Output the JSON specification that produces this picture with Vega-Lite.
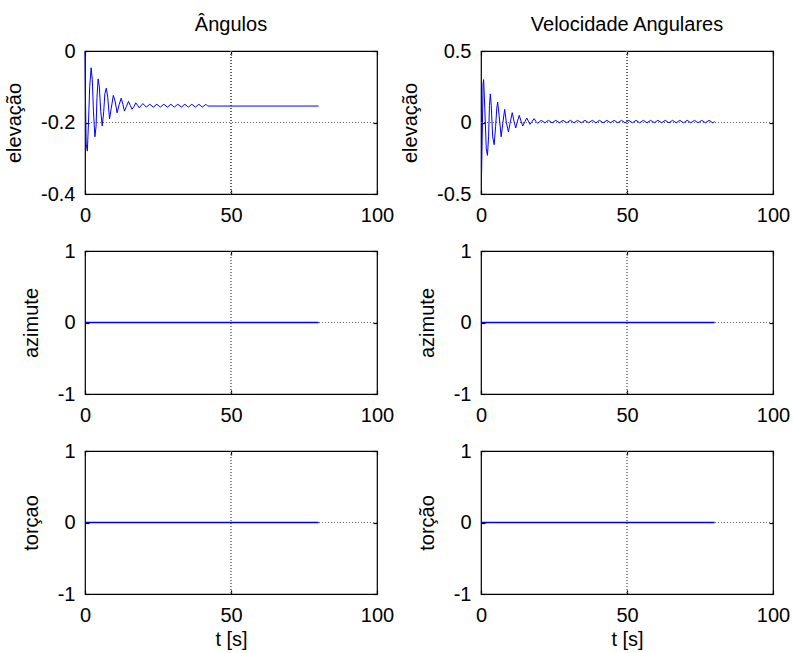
{
  "$schema": "https://vega.github.io/schema/vega-lite/v6.json",
  "padding": {"left": 3, "top": 14, "right": 2, "bottom": 5},
  "background": "white",
  "datasets": {
    "ang": [
      {"t": 0, "v": 0}, {"t": 0.15, "v": -0.13}, {"t": 0.4, "v": -0.26}, {"t": 0.8, "v": -0.28},
      {"t": 1.2, "v": -0.2}, {"t": 1.6, "v": -0.1}, {"t": 2.1, "v": -0.047}, {"t": 2.5, "v": -0.08},
      {"t": 2.9, "v": -0.17}, {"t": 3.4, "v": -0.24}, {"t": 3.8, "v": -0.21}, {"t": 4.1, "v": -0.13},
      {"t": 4.5, "v": -0.078}, {"t": 4.9, "v": -0.1}, {"t": 5.4, "v": -0.17}, {"t": 5.9, "v": -0.21},
      {"t": 6.4, "v": -0.17}, {"t": 6.8, "v": -0.12}, {"t": 7.3, "v": -0.104}, {"t": 7.8, "v": -0.13},
      {"t": 8.4, "v": -0.19}, {"t": 9.0, "v": -0.16}, {"t": 9.7, "v": -0.124}, {"t": 10.3, "v": -0.14},
      {"t": 11.0, "v": -0.173}, {"t": 11.7, "v": -0.15}, {"t": 12.4, "v": -0.132}, {"t": 13.0, "v": -0.15},
      {"t": 13.5, "v": -0.168}, {"t": 14.2, "v": -0.155}, {"t": 14.9, "v": -0.141}, {"t": 15.5, "v": -0.152},
      {"t": 16.1, "v": -0.163}, {"t": 16.8, "v": -0.155}, {"t": 17.4, "v": -0.145}, {"t": 18.0, "v": -0.152},
      {"t": 18.6, "v": -0.159}, {"t": 19.2, "v": -0.153}, {"t": 19.8, "v": -0.147},
      {"t": 21.0, "v": -0.157}, {"t": 22.2, "v": -0.149}, {"t": 23.4, "v": -0.157}, {"t": 24.6, "v": -0.149},
      {"t": 25.8, "v": -0.157}, {"t": 27.0, "v": -0.149}, {"t": 28.2, "v": -0.157}, {"t": 29.4, "v": -0.149},
      {"t": 30.6, "v": -0.157}, {"t": 31.8, "v": -0.149}, {"t": 33.0, "v": -0.157}, {"t": 34.2, "v": -0.149},
      {"t": 35.4, "v": -0.157}, {"t": 36.6, "v": -0.149}, {"t": 37.8, "v": -0.157}, {"t": 39.0, "v": -0.149},
      {"t": 40.2, "v": -0.157}, {"t": 41.4, "v": -0.149}, {"t": 42.0, "v": -0.154}, {"t": 80, "v": -0.154}
    ],
    "vel": [
      {"t": 0, "v": -0.36}, {"t": 0.2, "v": -0.36}, {"t": 0.5, "v": 0.0}, {"t": 0.7, "v": 0.27},
      {"t": 0.9, "v": 0.30}, {"t": 1.3, "v": 0.1}, {"t": 1.8, "v": -0.18}, {"t": 2.2, "v": -0.23},
      {"t": 2.6, "v": -0.1}, {"t": 2.9, "v": 0.12}, {"t": 3.2, "v": 0.20}, {"t": 3.5, "v": 0.12},
      {"t": 4.0, "v": -0.1}, {"t": 4.5, "v": -0.155}, {"t": 5.0, "v": -0.03}, {"t": 5.4, "v": 0.1},
      {"t": 5.7, "v": 0.143}, {"t": 6.2, "v": 0.05}, {"t": 6.9, "v": -0.10}, {"t": 7.5, "v": 0.0},
      {"t": 8.1, "v": 0.092}, {"t": 8.7, "v": 0.0}, {"t": 9.4, "v": -0.066}, {"t": 10.0, "v": 0.0},
      {"t": 10.7, "v": 0.069}, {"t": 11.3, "v": 0.01}, {"t": 11.9, "v": -0.038}, {"t": 12.5, "v": 0.01},
      {"t": 13.1, "v": 0.05}, {"t": 13.7, "v": 0.01}, {"t": 14.3, "v": -0.024}, {"t": 15.0, "v": 0.005},
      {"t": 15.7, "v": 0.031}, {"t": 16.2, "v": 0.01}, {"t": 16.8, "v": -0.013}, {"t": 17.5, "v": 0.008},
      {"t": 18.2, "v": 0.027}, {"t": 18.8, "v": 0.008}, {"t": 19.4, "v": -0.006},
      {"t": 20.6, "v": 0.015}, {"t": 21.85, "v": -0.002}, {"t": 23.1, "v": 0.015}, {"t": 24.35, "v": -0.002},
      {"t": 25.6, "v": 0.015}, {"t": 26.85, "v": -0.002}, {"t": 28.1, "v": 0.015}, {"t": 29.35, "v": -0.002},
      {"t": 30.6, "v": 0.015}, {"t": 31.85, "v": -0.002}, {"t": 33.1, "v": 0.015}, {"t": 34.35, "v": -0.002},
      {"t": 35.6, "v": 0.015}, {"t": 36.85, "v": -0.002}, {"t": 38.1, "v": 0.015}, {"t": 39.35, "v": -0.002},
      {"t": 40.6, "v": 0.015}, {"t": 41.85, "v": -0.002}, {"t": 43.1, "v": 0.015}, {"t": 44.35, "v": -0.002},
      {"t": 45.6, "v": 0.015}, {"t": 46.85, "v": -0.002}, {"t": 48.1, "v": 0.015}, {"t": 49.35, "v": -0.002},
      {"t": 50.6, "v": 0.015}, {"t": 51.85, "v": -0.002}, {"t": 53.1, "v": 0.015}, {"t": 54.35, "v": -0.002},
      {"t": 55.6, "v": 0.015}, {"t": 56.85, "v": -0.002}, {"t": 58.1, "v": 0.015}, {"t": 59.35, "v": -0.002},
      {"t": 60.6, "v": 0.015}, {"t": 61.85, "v": -0.002}, {"t": 63.1, "v": 0.015}, {"t": 64.35, "v": -0.002},
      {"t": 65.6, "v": 0.015}, {"t": 66.85, "v": -0.002}, {"t": 68.1, "v": 0.015}, {"t": 69.35, "v": -0.002},
      {"t": 70.6, "v": 0.015}, {"t": 71.85, "v": -0.002}, {"t": 73.1, "v": 0.015}, {"t": 74.35, "v": -0.002},
      {"t": 75.6, "v": 0.015}, {"t": 76.85, "v": -0.002}, {"t": 78.1, "v": 0.015}, {"t": 79.35, "v": -0.002},
      {"t": 80, "v": 0.006}
    ],
    "zero": [{"t": 0, "v": 0}, {"t": 80, "v": 0}]
  },
  "config": {
    "font": "Liberation Sans",
    "view": {"stroke": "black", "strokeWidth": 1.2},
    "axis": {
      "labelFont": "Liberation Sans", "labelFontSize": 20, "labelColor": "black", "labelFlush": false,
      "titleFont": "Liberation Sans", "titleFontSize": 20, "titleFontWeight": "normal", "titleColor": "black",
      "domain": false, "tickColor": "black", "tickSize": -4, "tickWidth": 1.2, "grid": false,
      "labelPadding": 14, "titlePadding": 16
    },
    "rule": {"color": "#666", "strokeDash": [1, 2], "strokeWidth": 1},
    "title": {"font": "Liberation Sans", "fontSize": 20, "fontWeight": "normal", "color": "black", "offset": 6}
  },
  "columns": 2,
  "bounds": "flush",
  "spacing": {"row": 57, "column": 104},
  "concat": [
    {
      "width": 292, "height": 143,
      "title": "Ângulos",
      "data": {"name": "ang"},
      "layer": [
        {"mark": "rule", "encoding": {"x": {"datum": 50, "type": "quantitative", "axis": null}}},
        {"mark": "rule", "encoding": {"y": {"datum": -0.2, "type": "quantitative", "axis": null}}},
        {"mark": {"type": "line", "color": "#0000ff", "strokeWidth": 1},
         "encoding": {
           "x": {"field": "t", "type": "quantitative", "scale": {"domain": [0, 100], "nice": false, "zero": false}, "axis": {"orient": "bottom", "values": [0, 50, 100], "title": null, "labelExpr": "'' + datum.value", "labelPadding": 15}},
           "y": {"field": "v", "type": "quantitative", "scale": {"domain": [-0.4, 0], "nice": false}, "axis": {"orient": "left", "values": [-0.4, -0.2, 0], "title": "elevação", "labelExpr": "'' + datum.value"}}
         }},
        {"mark": {"type": "line", "opacity": 0},
         "encoding": {
           "x": {"field": "t", "type": "quantitative", "scale": {"domain": [0, 100], "nice": false, "zero": false}, "axis": {"orient": "top", "values": [0, 50, 100], "title": null, "labels": false}},
           "y": {"field": "v", "type": "quantitative", "scale": {"domain": [-0.4, 0], "nice": false}, "axis": {"orient": "right", "values": [-0.4, -0.2, 0], "title": null, "labels": false}}
         }}
      ],
      "resolve": {"axis": {"x": "independent", "y": "independent"}}
    },
    {
      "width": 292, "height": 143,
      "title": "Velocidade Angulares",
      "data": {"name": "vel"},
      "layer": [
        {"mark": "rule", "encoding": {"x": {"datum": 50, "type": "quantitative", "axis": null}}},
        {"mark": "rule", "encoding": {"y": {"datum": 0, "type": "quantitative", "axis": null}}},
        {"mark": {"type": "line", "color": "#0000ff", "strokeWidth": 1},
         "encoding": {
           "x": {"field": "t", "type": "quantitative", "scale": {"domain": [0, 100], "nice": false, "zero": false}, "axis": {"orient": "bottom", "values": [0, 50, 100], "title": null, "labelExpr": "'' + datum.value", "labelPadding": 15}},
           "y": {"field": "v", "type": "quantitative", "scale": {"domain": [-0.5, 0.5], "nice": false}, "axis": {"orient": "left", "values": [-0.5, 0, 0.5], "title": "elevação", "labelExpr": "'' + datum.value"}}
         }},
        {"mark": {"type": "line", "opacity": 0},
         "encoding": {
           "x": {"field": "t", "type": "quantitative", "scale": {"domain": [0, 100], "nice": false, "zero": false}, "axis": {"orient": "top", "values": [0, 50, 100], "title": null, "labels": false}},
           "y": {"field": "v", "type": "quantitative", "scale": {"domain": [-0.5, 0.5], "nice": false}, "axis": {"orient": "right", "values": [-0.5, 0, 0.5], "title": null, "labels": false}}
         }}
      ],
      "resolve": {"axis": {"x": "independent", "y": "independent"}}
    },
    {
      "width": 292, "height": 143,
      "data": {"name": "zero"},
      "layer": [
        {"mark": "rule", "encoding": {"x": {"datum": 50, "type": "quantitative", "axis": null}}},
        {"mark": "rule", "encoding": {"y": {"datum": 0, "type": "quantitative", "axis": null}}},
        {"mark": {"type": "line", "color": "#0000ff", "strokeWidth": 1.3},
         "encoding": {
           "x": {"field": "t", "type": "quantitative", "scale": {"domain": [0, 100], "nice": false, "zero": false}, "axis": {"orient": "bottom", "values": [0, 50, 100], "title": null, "labelExpr": "'' + datum.value", "labelPadding": 15}},
           "y": {"field": "v", "type": "quantitative", "scale": {"domain": [-1, 1], "nice": false}, "axis": {"orient": "left", "values": [-1, 0, 1], "title": "azimute", "labelExpr": "'' + datum.value"}}
         }},
        {"mark": {"type": "line", "opacity": 0},
         "encoding": {
           "x": {"field": "t", "type": "quantitative", "scale": {"domain": [0, 100], "nice": false, "zero": false}, "axis": {"orient": "top", "values": [0, 50, 100], "title": null, "labels": false}},
           "y": {"field": "v", "type": "quantitative", "scale": {"domain": [-1, 1], "nice": false}, "axis": {"orient": "right", "values": [-1, 0, 1], "title": null, "labels": false}}
         }}
      ],
      "resolve": {"axis": {"x": "independent", "y": "independent"}}
    },
    {
      "width": 292, "height": 143,
      "data": {"name": "zero"},
      "layer": [
        {"mark": "rule", "encoding": {"x": {"datum": 50, "type": "quantitative", "axis": null}}},
        {"mark": "rule", "encoding": {"y": {"datum": 0, "type": "quantitative", "axis": null}}},
        {"mark": {"type": "line", "color": "#0000ff", "strokeWidth": 1.3},
         "encoding": {
           "x": {"field": "t", "type": "quantitative", "scale": {"domain": [0, 100], "nice": false, "zero": false}, "axis": {"orient": "bottom", "values": [0, 50, 100], "title": null, "labelExpr": "'' + datum.value", "labelPadding": 15}},
           "y": {"field": "v", "type": "quantitative", "scale": {"domain": [-1, 1], "nice": false}, "axis": {"orient": "left", "values": [-1, 0, 1], "title": "azimute", "labelExpr": "'' + datum.value"}}
         }},
        {"mark": {"type": "line", "opacity": 0},
         "encoding": {
           "x": {"field": "t", "type": "quantitative", "scale": {"domain": [0, 100], "nice": false, "zero": false}, "axis": {"orient": "top", "values": [0, 50, 100], "title": null, "labels": false}},
           "y": {"field": "v", "type": "quantitative", "scale": {"domain": [-1, 1], "nice": false}, "axis": {"orient": "right", "values": [-1, 0, 1], "title": null, "labels": false}}
         }}
      ],
      "resolve": {"axis": {"x": "independent", "y": "independent"}}
    },
    {
      "width": 292, "height": 143,
      "data": {"name": "zero"},
      "layer": [
        {"mark": "rule", "encoding": {"x": {"datum": 50, "type": "quantitative", "axis": null}}},
        {"mark": "rule", "encoding": {"y": {"datum": 0, "type": "quantitative", "axis": null}}},
        {"mark": {"type": "line", "color": "#0000d0", "strokeWidth": 1.3},
         "encoding": {
           "x": {"field": "t", "type": "quantitative", "scale": {"domain": [0, 100], "nice": false, "zero": false}, "axis": {"orient": "bottom", "values": [0, 50, 100], "title": "t [s]", "labelExpr": "'' + datum.value", "labelPadding": 15, "titlePadding": 4}},
           "y": {"field": "v", "type": "quantitative", "scale": {"domain": [-1, 1], "nice": false}, "axis": {"orient": "left", "values": [-1, 0, 1], "title": "torçao", "labelExpr": "'' + datum.value"}}
         }},
        {"mark": {"type": "line", "opacity": 0},
         "encoding": {
           "x": {"field": "t", "type": "quantitative", "scale": {"domain": [0, 100], "nice": false, "zero": false}, "axis": {"orient": "top", "values": [0, 50, 100], "title": null, "labels": false}},
           "y": {"field": "v", "type": "quantitative", "scale": {"domain": [-1, 1], "nice": false}, "axis": {"orient": "right", "values": [-1, 0, 1], "title": null, "labels": false}}
         }}
      ],
      "resolve": {"axis": {"x": "independent", "y": "independent"}}
    },
    {
      "width": 292, "height": 143,
      "data": {"name": "zero"},
      "layer": [
        {"mark": "rule", "encoding": {"x": {"datum": 50, "type": "quantitative", "axis": null}}},
        {"mark": "rule", "encoding": {"y": {"datum": 0, "type": "quantitative", "axis": null}}},
        {"mark": {"type": "line", "color": "#0000d0", "strokeWidth": 1.3},
         "encoding": {
           "x": {"field": "t", "type": "quantitative", "scale": {"domain": [0, 100], "nice": false, "zero": false}, "axis": {"orient": "bottom", "values": [0, 50, 100], "title": "t [s]", "labelExpr": "'' + datum.value", "labelPadding": 15, "titlePadding": 4}},
           "y": {"field": "v", "type": "quantitative", "scale": {"domain": [-1, 1], "nice": false}, "axis": {"orient": "left", "values": [-1, 0, 1], "title": "torção", "labelExpr": "'' + datum.value"}}
         }},
        {"mark": {"type": "line", "opacity": 0},
         "encoding": {
           "x": {"field": "t", "type": "quantitative", "scale": {"domain": [0, 100], "nice": false, "zero": false}, "axis": {"orient": "top", "values": [0, 50, 100], "title": null, "labels": false}},
           "y": {"field": "v", "type": "quantitative", "scale": {"domain": [-1, 1], "nice": false}, "axis": {"orient": "right", "values": [-1, 0, 1], "title": null, "labels": false}}
         }}
      ],
      "resolve": {"axis": {"x": "independent", "y": "independent"}}
    }
  ]
}
